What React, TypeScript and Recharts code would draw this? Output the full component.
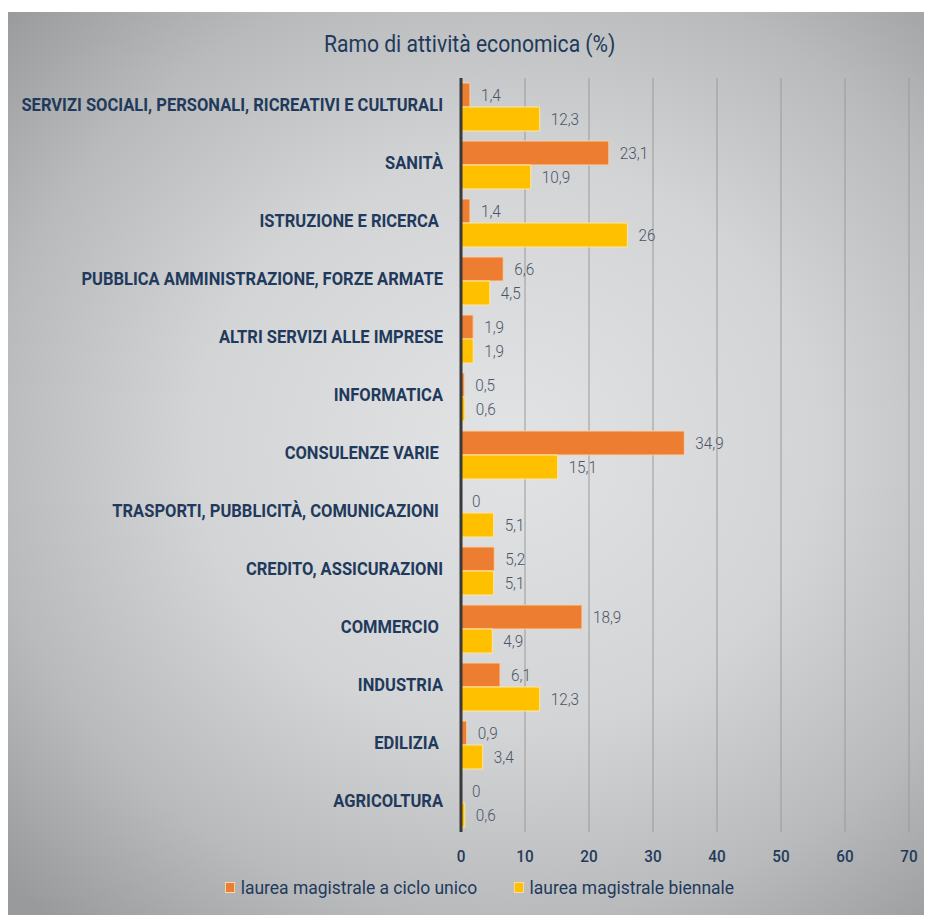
import { BarChart, Bar, XAxis, YAxis, CartesianGrid, Legend, LabelList } from "recharts";

const categories = [
  "SERVIZI SOCIALI, PERSONALI, RICREATIVI E CULTURALI",
  "SANITÀ",
  "ISTRUZIONE E RICERCA\u00a0",
  "PUBBLICA AMMINISTRAZIONE, FORZE ARMATE",
  "ALTRI SERVIZI ALLE IMPRESE",
  "INFORMATICA",
  "CONSULENZE VARIE\u00a0",
  "TRASPORTI, PUBBLICITÀ, COMUNICAZIONI\u00a0",
  "CREDITO, ASSICURAZIONI",
  "COMMERCIO\u00a0",
  "INDUSTRIA",
  "EDILIZIA\u00a0",
  "AGRICOLTURA",
];
const cicloUnico = [1.4, 23.1, 1.4, 6.6, 1.9, 0.5, 34.9, 0, 5.2, 18.9, 6.1, 0.9, 0];
const biennale = [12.3, 10.9, 26, 4.5, 1.9, 0.6, 15.1, 5.1, 5.1, 4.9, 12.3, 3.4, 0.6];
const xTicks = [0, 10, 20, 30, 40, 50, 60, 70];

const rows = categories.map((name, i) => ({ name, unico: cicloUnico[i], biennale: biennale[i] }));

const FONT = "Roboto, 'DejaVu Sans', sans-serif";
const NAVY = "#1f3a5c";
const LABEL = "#4a5568";

const fmt = (v: any) => String(v).replace(".", ",");

// condensed look: squeeze text horizontally
function YTick(props: any) {
  const { x, y, payload } = props;
  return (
    <g transform={`translate(${x},${y})`}>
      <text
        transform="scale(0.87,1)"
        textAnchor="end"
        dy="0.2em"
        fontFamily={FONT}
        fontSize={19}
        fontWeight={700}
        fill={NAVY}
        style={{ whiteSpace: "pre" }}
      >
        {payload.value}
      </text>
    </g>
  );
}

function XTick(props: any) {
  const { x, y, payload } = props;
  return (
    <g transform={`translate(${x},${y})`}>
      <text transform="scale(0.9,1)" textAnchor="middle" dy="0.71em" fontFamily={FONT} fontSize={17} fontWeight={500} fill={NAVY}>
        {payload.value}
      </text>
    </g>
  );
}

function ValueLabel(props: any) {
  const { x, y, width, height, value } = props;
  const tx = Number(x) + Math.max(0, Number(width)) + 11;
  const ty = Number(y) + Number(height) / 2;
  return (
    <g transform={`translate(${tx},${ty})`}>
      <text transform="scale(0.9,1)" dy="0.36em" fontFamily={FONT} fontSize={17} fontWeight={300} fill={LABEL}>
        {fmt(value)}
      </text>
    </g>
  );
}

function LegendBox() {
  const item = (color: string, text: string) => (
    <span style={{ display: "inline-flex", alignItems: "center", marginRight: 40 }}>
      <span
        style={{
          width: 9,
          height: 9,
          background: color,
          border: "1px solid #f6dcb4",
          marginRight: 6,
          display: "inline-block",
        }}
      />
      <span style={{ color: NAVY, fontSize: 19 }}>{text}</span>
    </span>
  );
  return (
    <div style={{ height: 30, paddingLeft: 217, fontFamily: FONT }}>
      <div
        style={{
          height: 30,
          display: "flex",
          alignItems: "center",
          transform: "scaleX(0.92)",
          transformOrigin: "left center",
          whiteSpace: "nowrap",
        }}
      >
        {item("#ed7d31", "laurea magistrale a ciclo unico")}
        {item("#ffc000", "laurea magistrale biennale")}
      </div>
    </div>
  );
}

export default function App() {
  return (
    <div style={{ marginTop: 4, width: 924, height: 903, position: "relative" }}>
      <div
        style={{
          position: "absolute",
          inset: 0,
          background:
            "radial-gradient(ellipse 75% 70% at 54% 48%, #e2e3e4 0%, #d3d4d5 45%, #b9babb 75%, #999a9b 100%)",
        }}
      />
      <div
        style={{
          position: "absolute",
          top: 18,
          width: 924,
          textAlign: "center",
          fontFamily: FONT,
          fontSize: 24,
          color: NAVY,
        }}
      >
        <span style={{ display: "inline-block", transform: "scaleX(0.88)" }}>Ramo di attività economica (%)</span>
      </div>
      <BarChart
        width={924}
        height={903}
        data={rows}
        layout="vertical"
        margin={{ top: 66, right: 23, bottom: 13, left: 0 }}
        barCategoryGap="8.6%"
        barGap={0}
        style={{ position: "absolute", top: 0, left: 0 }}
      >
        <CartesianGrid horizontal={false} stroke="#9a9a9a" strokeWidth={1} />
        <XAxis
          type="number"
          domain={[0, 70]}
          ticks={xTicks}
          axisLine={false}
          tickLine={false}
          tickSize={0}
          tickMargin={18}
          height={40}
          tick={<XTick />}
        />
        <YAxis
          type="category"
          dataKey="name"
          width={453}
          interval={0}
          axisLine={{ stroke: "#3a3a3a", strokeWidth: 3 }}
          tickLine={false}
          tickSize={6}
          tickMargin={12}
          tick={<YTick />}
        />
        <Legend verticalAlign="bottom" content={() => <LegendBox />} />
        <Bar dataKey="unico" fill="#ed7d31" stroke="#f6d2ae" strokeWidth={1} minPointSize={0.01} isAnimationActive={false}>
          <LabelList dataKey="unico" content={<ValueLabel />} />
        </Bar>
        <Bar dataKey="biennale" fill="#ffc000" stroke="#fbe7a6" strokeWidth={1} minPointSize={0.01} isAnimationActive={false}>
          <LabelList dataKey="biennale" content={<ValueLabel />} />
        </Bar>
      </BarChart>
    </div>
  );
}
